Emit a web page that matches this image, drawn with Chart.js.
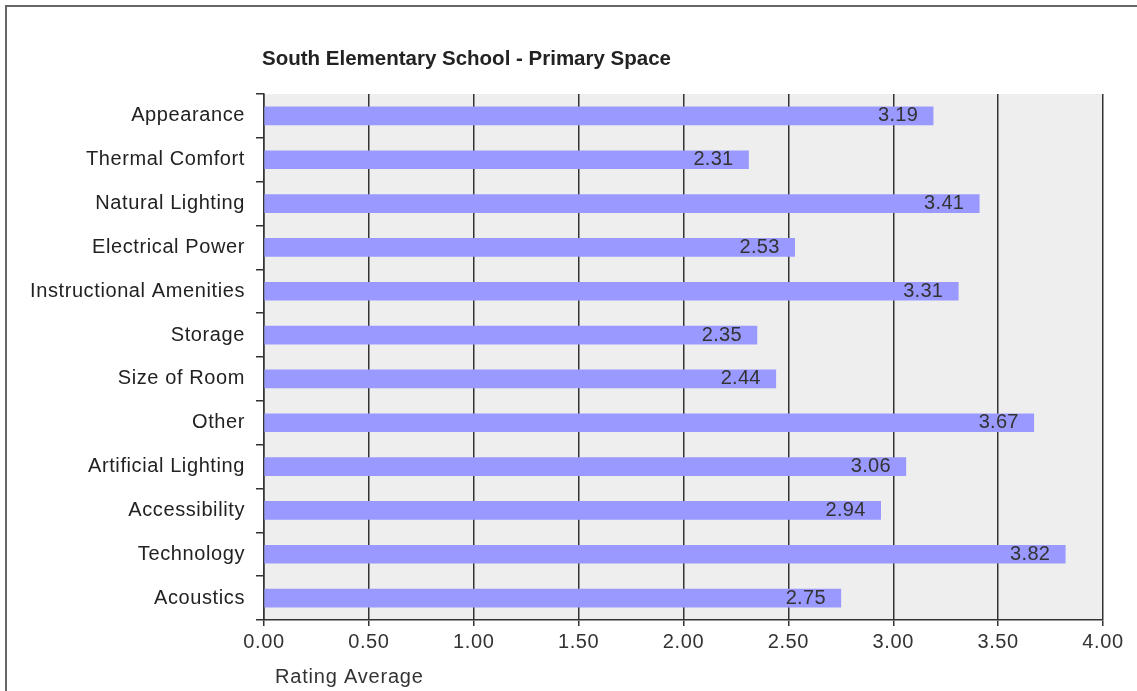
<!DOCTYPE html>
<html>
<head>
<meta charset="utf-8">
<script src="https://cdn.jsdelivr.net/npm/chart.js@4/dist/chart.umd.min.js"></script>
<style>
  html, body { margin: 0; padding: 0; background: #fff; overflow: hidden; }
  #frame { position: absolute; left: 5px; top: 5px; width: 2000px; height: 2000px; border: 2px solid #666; }
  #chart { position: absolute; left: 0; top: 0; }
</style>
</head>
<body>
<div id="frame"></div>
<canvas id="chart" width="1137" height="691"></canvas>
<script>
const chartTitle = "South Elementary School - Primary Space";
const axisTitle = "Rating Average";
const categories = ["Appearance","Thermal Comfort","Natural Lighting","Electrical Power","Instructional Amenities","Storage","Size of Room","Other","Artificial Lighting","Accessibility","Technology","Acoustics"];
const ratings = [3.19, 2.31, 3.41, 2.53, 3.31, 2.35, 2.44, 3.67, 3.06, 2.94, 3.82, 2.75];
const xTicks = [0, 0.5, 1, 1.5, 2, 2.5, 3, 3.5, 4];

Chart.defaults.font.family = "'Liberation Sans', Arial, sans-serif";
Chart.defaults.font.size = 20;
Chart.defaults.color = "#333";

// background of the plot area, titles, value labels
const decor = {
    id: "decor",
    beforeUpdate(chart){ chart.ctx.letterSpacing = "0.6px"; },
    beforeDraw(chart){
        const ctx = chart.ctx, a = chart.chartArea;
        ctx.letterSpacing = "0.6px";
        ctx.save();
        ctx.fillStyle = "#eeeeee";
        ctx.fillRect(a.left, a.top, a.right - a.left, a.bottom - a.top);
        ctx.letterSpacing = "0px";
        ctx.fillStyle = "#222";
        ctx.font = "bold 20.5px 'Liberation Sans', Arial, sans-serif";
        ctx.textAlign = "left";
        ctx.textBaseline = "middle";
        ctx.fillText(chartTitle, 262, 59);
        ctx.restore();
    },
    afterDatasetsDraw(chart){
        const ctx = chart.ctx;
        const meta = chart.getDatasetMeta(0);
        ctx.save();
        ctx.letterSpacing = "0.3px";
        ctx.font = "20px 'Liberation Sans', Arial, sans-serif";
        ctx.fillStyle = "#333";
        ctx.textAlign = "right";
        ctx.textBaseline = "middle";
        meta.data.forEach((bar, i)=>{
            ctx.fillText(ratings[i].toFixed(2), bar.x - 15, bar.y);
        });
        ctx.restore();
    },
    afterDraw(chart){
        const ctx = chart.ctx;
        ctx.save();
        ctx.letterSpacing = "0.8px";
        ctx.font = "20px 'Liberation Sans', Arial, sans-serif";
        ctx.fillStyle = "#333";
        ctx.textAlign = "left";
        ctx.textBaseline = "middle";
        ctx.fillText(axisTitle, chart.chartArea.left + 11, 677);
        ctx.restore();
    }
};

new Chart(document.getElementById("chart"), {
    type: "bar",
    data: {
        labels: categories,
        datasets: [{
            data: ratings,
            backgroundColor: "#9999ff",
            barThickness: 18
        }]
    },
    options: {
        indexAxis: "y",
        responsive: false,
        animation: false,
        layout: { padding: { top: 94, right: 34, bottom: 0, left: 0 } },
        plugins: { legend: { display: false }, tooltip: { enabled: false } },
        scales: {
            x: {
                min: 0,
                max: 4,
                afterBuildTicks: s => { s.ticks = xTicks.map(v => ({ value: v })); },
                afterFit: s => { s.height = 71; },
                grid: { color: "#333", lineWidth: 1.5, tickLength: 6 },
                border: { color: "#333", width: 1.5 },
                ticks: { padding: 4, color: "#333", callback: v => Number(v).toFixed(2) }
            },
            y: {
                afterFit: s => { s.width = 264; },
                grid: { drawOnChartArea: false, color: "#333", lineWidth: 1.5, tickLength: 8, offset: true },
                border: { color: "#333", width: 1.5 },
                ticks: { padding: 11, color: "#222" }
            }
        }
    },
    plugins: [decor]
});
</script>
</body>
</html>
